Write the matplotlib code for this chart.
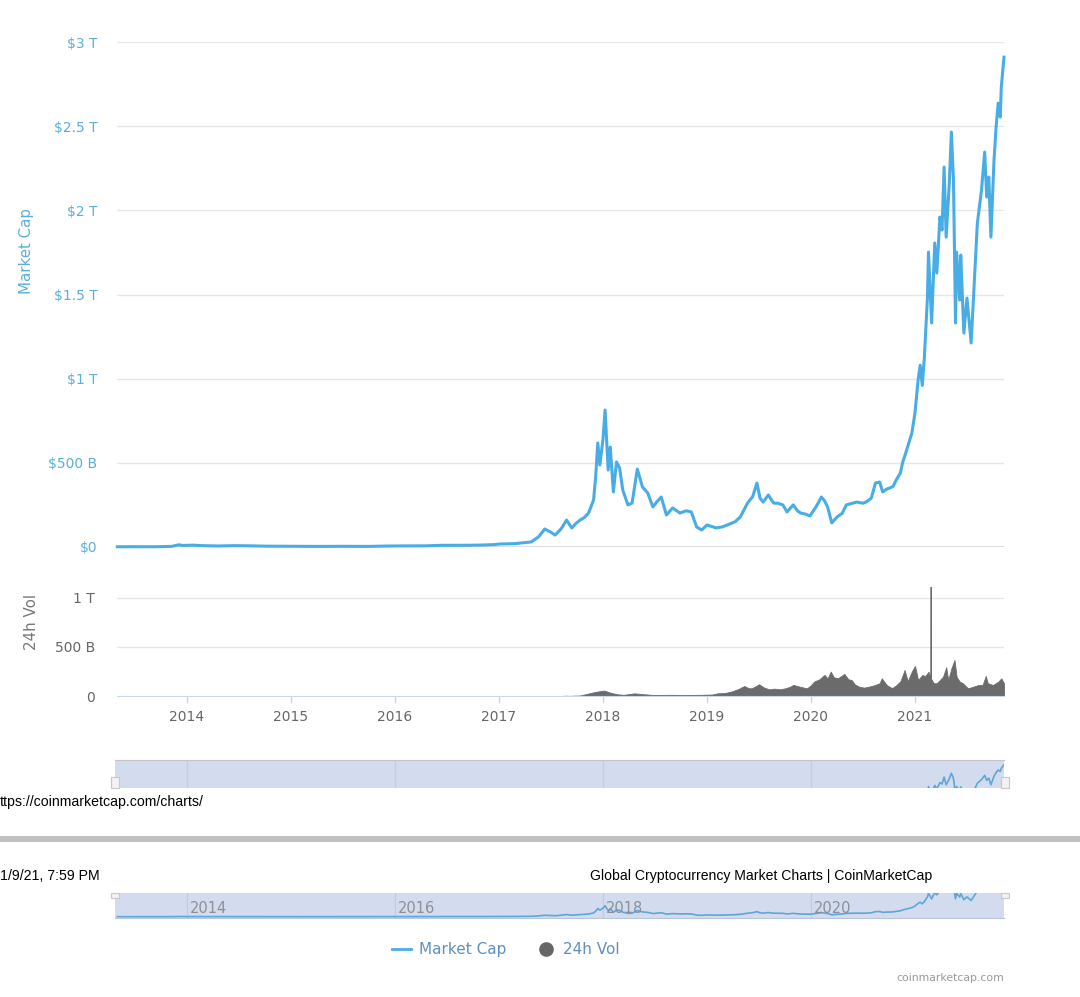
import matplotlib
matplotlib.use("Agg")
import matplotlib.pyplot as plt
from matplotlib.patches import Rectangle

W, H = 1080, 997

# total market cap (decimal year, $ billions)
mcap_year = [
    2013.33, 2013.50, 2013.70, 2013.85, 2013.92, 2013.96, 2014.05, 2014.15,
    2014.30, 2014.45, 2014.60, 2014.75, 2014.90, 2015.05, 2015.25, 2015.50,
    2015.75, 2015.90, 2016.05, 2016.30, 2016.45, 2016.60, 2016.80, 2016.95,
    2017.01, 2017.15, 2017.31, 2017.38, 2017.44, 2017.49, 2017.54, 2017.60,
    2017.65, 2017.70, 2017.74, 2017.78, 2017.82, 2017.86, 2017.91, 2017.93,
    2017.95, 2017.97, 2018.00, 2018.02, 2018.03, 2018.05, 2018.07, 2018.10,
    2018.13, 2018.16, 2018.19, 2018.24, 2018.28, 2018.33, 2018.38, 2018.43,
    2018.48, 2018.52, 2018.56, 2018.61, 2018.67, 2018.74, 2018.80, 2018.85,
    2018.90, 2018.95, 2019.00, 2019.09, 2019.15, 2019.22, 2019.27, 2019.32,
    2019.39, 2019.44, 2019.48, 2019.51, 2019.54, 2019.59, 2019.64, 2019.68,
    2019.73, 2019.77, 2019.80, 2019.83, 2019.87, 2019.90, 2019.95, 2019.99,
    2020.05, 2020.10, 2020.13, 2020.16, 2020.20, 2020.25, 2020.30, 2020.34,
    2020.40, 2020.44, 2020.50, 2020.53, 2020.58, 2020.62, 2020.66, 2020.69,
    2020.73, 2020.76, 2020.79, 2020.82, 2020.86, 2020.88, 2020.92, 2020.97,
    2021.00, 2021.03, 2021.05, 2021.07, 2021.09, 2021.12, 2021.13, 2021.16,
    2021.19, 2021.21, 2021.24, 2021.26, 2021.28, 2021.30, 2021.33, 2021.35,
    2021.37, 2021.39, 2021.40, 2021.43, 2021.44, 2021.47, 2021.50, 2021.54,
    2021.57, 2021.60, 2021.64, 2021.67, 2021.69, 2021.71, 2021.73, 2021.76,
    2021.78, 2021.80, 2021.82, 2021.83, 2021.856,
]
mcap_bn = [
    1.5, 1.3, 1.6, 3.5, 13, 9, 11, 8,
    6, 8, 7, 5, 4.5, 3.5, 3.5, 4,
    3.5, 5.5, 6.5, 7, 10, 10, 11, 14,
    18, 20, 30, 60, 107, 91, 71, 110,
    160, 113, 140, 160, 175, 200, 280, 420,
    618, 487, 640, 814, 695, 457, 594, 327,
    505, 469, 339, 250, 261, 463, 356, 321,
    238, 270, 297, 190, 232, 202, 215, 208,
    119, 101, 131, 113, 120, 137, 150, 178,
    261, 300, 380, 290, 267, 309, 261, 260,
    250, 208, 230, 250, 215, 202, 195, 184,
    240, 297, 275, 238, 143, 178, 200, 250,
    260, 267, 260, 267, 290, 380, 386, 327,
    345, 351, 360, 398, 440, 499, 576, 677,
    796, 992, 1080, 960, 1123, 1485, 1752, 1331,
    1806, 1628, 1960, 1883, 2257, 1841, 2162, 2465,
    2180, 1331, 1752, 1467, 1734, 1271, 1479, 1212,
    1568, 1925, 2121, 2346, 2079, 2198, 1841, 2299,
    2495, 2637, 2554, 2732, 2910,
]

# 24h volume (decimal year, $ billions)
vol_year = [
    2017.60, 2017.64, 2017.68, 2017.71, 2017.78, 2017.84, 2017.90, 2017.94,
    2018.01, 2018.04, 2018.07, 2018.14, 2018.20, 2018.30, 2018.40, 2018.50,
    2018.65, 2018.80, 2018.95, 2019.05, 2019.10, 2019.17, 2019.23, 2019.30,
    2019.36, 2019.40, 2019.43, 2019.47, 2019.50, 2019.55, 2019.60, 2019.65,
    2019.70, 2019.76, 2019.80, 2019.83, 2019.89, 2019.96, 2020.00, 2020.03,
    2020.08, 2020.13, 2020.16, 2020.19, 2020.22, 2020.26, 2020.32, 2020.36,
    2020.39, 2020.42, 2020.46, 2020.51, 2020.56, 2020.61, 2020.66, 2020.68,
    2020.73, 2020.78, 2020.82, 2020.86, 2020.90, 2020.93, 2020.97, 2021.00,
    2021.03, 2021.07, 2021.10, 2021.13, 2021.147, 2021.15, 2021.153, 2021.18,
    2021.21, 2021.24, 2021.27, 2021.30, 2021.32, 2021.35, 2021.38, 2021.40,
    2021.43, 2021.46, 2021.51, 2021.56, 2021.61, 2021.65, 2021.68, 2021.70,
    2021.75, 2021.80, 2021.83, 2021.856,
]
vol_bn = [
    0, 3, 1, 3, 5, 20, 35, 44,
    55, 45, 34, 17, 12, 27, 17, 10,
    12, 10, 12, 15, 27, 30, 44, 70,
    102, 80, 78, 100, 120, 85, 68, 75,
    68, 80, 95, 113, 96, 78, 110, 147,
    170, 215, 180, 249, 190, 181, 225, 170,
    164, 120, 96, 85, 96, 110, 130, 180,
    110, 80, 110, 150, 265, 150, 250, 306,
    163, 214, 204, 248, 180, 1116, 180, 130,
    130, 163, 197, 293, 163, 282, 367, 197,
    146, 130, 78, 95, 112, 112, 204, 130,
    112, 146, 180, 130,
]

cap_ticks = [0, 0.5e12, 1e12, 1.5e12, 2e12, 2.5e12, 3e12]
cap_labels = ["$0", "$500 B", "$1 T", "$1.5 T", "$2 T", "$2.5 T", "$3 T"]
vol_ticks = [0, 0.5e12, 1e12]
vol_labels = ["0", "500 B", "1 T"]
years = [2014, 2015, 2016, 2017, 2018, 2019, 2020, 2021]
nav_years = [2014, 2016, 2018, 2020]

XMIN, XMAX = 2013.327, 2021.856
BLUE = "#48ade4"
LABEL_BLUE = "#5aafd9"
GRID = "#e6e6e6"
AXIS = "#ccd6eb"
NAV_FILL = "#d3dcee"

mcap = [v * 1e9 for v in mcap_bn]
vol = [v * 1e9 for v in vol_bn]


def ax_at(fig, x0, y0, x1, y1):
    return fig.add_axes([x0 / W, 1 - y1 / H, (x1 - x0) / W, (y1 - y0) / H])


def pt(x, y):
    return x / W, 1 - y / H


def bare(ax):
    for s in ax.spines.values():
        s.set_visible(False)
    ax.set_xlim(XMIN, XMAX)


fig = plt.figure(figsize=(W / 100, H / 100), dpi=100)
fig.patch.set_facecolor("white")

# market cap
ax = ax_at(fig, 117, 42, 1004, 547)
bare(ax)
ax.set_ylim(0, 3e12)
ax.set_yticks(cap_ticks)
ax.set_yticklabels(cap_labels)
ax.set_xticks([])
ax.tick_params(axis="y", length=0, pad=14, labelsize=10, labelcolor=LABEL_BLUE)
for t in cap_ticks[1:]:
    ax.axhline(t, color=GRID, lw=1, zorder=0)
ax.axhline(0, color="#dedede", lw=2.2, zorder=0)
ax.plot(mcap_year, mcap, color=BLUE, lw=2.2, clip_on=False, zorder=3)
fig.text(*pt(26, 251), "Market Cap", rotation=90, ha="center", va="center",
         fontsize=10.8, color=LABEL_BLUE)

# 24h volume
axv = ax_at(fig, 117, 587, 1004, 696)
bare(axv)
axv.set_ylim(0, 1.112e12)
axv.set_yticks(vol_ticks)
axv.set_yticklabels(vol_labels)
axv.tick_params(axis="y", length=0, pad=16, labelsize=10, labelcolor="#666666")
for t in vol_ticks[1:]:
    axv.axhline(t, color=GRID, lw=1, zorder=0)
axv.spines["bottom"].set_visible(True)
axv.spines["bottom"].set_color(AXIS)
axv.set_xticks(years)
axv.set_xticklabels([str(y) for y in years])
axv.tick_params(axis="x", length=5, width=1, color=AXIS, pad=5,
                labelsize=10, labelcolor="#666666")
axv.fill_between(vol_year, 0, vol, color="#6b6b6b", lw=0.6, edgecolor="#6b6b6b")
fig.text(*pt(32, 622), "24h Vol", rotation=90, ha="center", va="center",
         fontsize=10.8, color="#777777")

# navigator, upper part (cut by the page break)
nav_top = ax_at(fig, 115, 760, 1004, 788)
bare(nav_top)
nav_top.set_xlim(XMIN - 0.02, XMAX)
nav_top.set_facecolor(NAV_FILL)
nav_top.set_ylim(1.67e12, 3.17e12)
nav_top.set_xticks([])
nav_top.set_yticks([])
nav_top.spines["top"].set_visible(True)
nav_top.spines["top"].set_color("#c4c4c4")
for y in nav_years:
    nav_top.axvline(y, color="#c3cde0", lw=1)
nav_top.plot(mcap_year, mcap, color="#5ea6d8", lw=1.2)

# navigator, lower part
nav_bot = ax_at(fig, 115, 893, 1004, 918)
bare(nav_bot)
nav_bot.set_xlim(XMIN - 0.02, XMAX)
nav_bot.set_facecolor(NAV_FILL)
nav_bot.set_ylim(-0.097e12, 1.77e12)
nav_bot.set_xticks([])
nav_bot.set_yticks([])
nav_bot.spines["bottom"].set_visible(True)
nav_bot.spines["bottom"].set_color("#b8c6dc")
for y in nav_years:
    nav_bot.axvline(y, color="#c3cde0", lw=1)
    nav_bot.text(y + 0.03, 0.62e12, str(y), fontsize=10.5, color="#8a8f99",
                 ha="left", va="center")
nav_bot.plot(mcap_year, mcap, color="#5ea6d8", lw=1.2)

# navigator handles
for hx in (111, 1001):
    fig.patches.append(Rectangle(pt(hx, 788), 8 / W, 11 / H, transform=fig.transFigure,
                                 facecolor="#f2f2f2", edgecolor="#c8c8c8", lw=0.8))
    fig.patches.append(Rectangle(pt(hx, 898), 8 / W, 5 / H, transform=fig.transFigure,
                                 facecolor="#f2f2f2", edgecolor="#c8c8c8", lw=0.8))

# print page break furniture
fig.text(*pt(0, 802), "ttps://coinmarketcap.com/charts/", ha="left", va="center",
         fontsize=10.2, family="Liberation Sans", color="black")
fig.patches.append(Rectangle(pt(0, 842), 1, 6 / H, transform=fig.transFigure,
                             facecolor="#c0c0c0", edgecolor="none"))
fig.text(*pt(0, 876), "1/9/21, 7:59 PM", ha="left", va="center",
         fontsize=10.2, family="Liberation Sans", color="black")
fig.text(*pt(590, 876), "Global Cryptocurrency Market Charts | CoinMarketCap",
         ha="left", va="center", fontsize=10.1, family="Liberation Sans", color="black")

# legend
fig.lines.append(plt.Line2D([392 / W, 411 / W], [1 - 949 / H] * 2, transform=fig.transFigure,
                            color=BLUE, lw=2))
fig.text(*pt(419, 949), "Market Cap", ha="left", va="center", fontsize=11, color="#5b90c0")
fig.lines.append(plt.Line2D([546 / W], [1 - 949 / H], transform=fig.transFigure,
                            marker="o", markersize=9.5, color="#666666", lw=0))
fig.text(*pt(563, 949), "24h Vol", ha="left", va="center", fontsize=11, color="#5b90c0")

fig.text(*pt(1004, 978), "coinmarketcap.com", ha="right", va="center",
         fontsize=7.8, color="#999999")

fig.savefig("out.png", dpi=100)
